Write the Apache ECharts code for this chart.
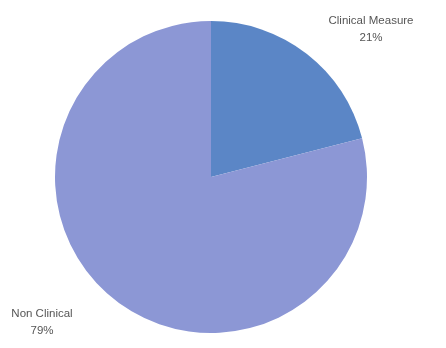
<!DOCTYPE html>
<html><head><meta charset="utf-8">
<script src="https://cdn.jsdelivr.net/npm/echarts@6/dist/echarts.min.js"></script>
<style>html,body{margin:0;padding:0;background:#fff}#c{width:446px;height:348px}</style>
</head><body><div id="c"></div>
<script>
const categories = ['Clinical Measure', 'Non Clinical'];
const values = [21, 79];
const colors = ['#5b86c6', '#8c97d5'];
const labelPos = [[371, 29], [42, 322]];

const chart = echarts.init(document.getElementById('c'));
chart.setOption({
  animation: false,
  series: [{
    type: 'pie',
    center: [211, 177],
    radius: [0, 156],
    startAngle: 90,
    clockwise: true,
    data: categories.map((n, i) => ({ name: n, value: values[i], itemStyle: { color: colors[i] } })),
    label: {
      show: true,
      position: 'outside',
      formatter: p => p.name + '\n' + Math.round(p.percent) + '%',
      fontFamily: 'Liberation Sans',
      fontSize: 11.5,
      lineHeight: 17,
      color: '#555',
      align: 'center',
      overflow: 'none'
    },
    labelLine: { show: false },
    labelLayout: function (params) {
      const i = params.dataIndex;
      return { x: labelPos[i][0], y: labelPos[i][1], align: 'center', verticalAlign: 'middle' };
    },
    emphasis: { disabled: true }
  }]
});
</script></body></html>
